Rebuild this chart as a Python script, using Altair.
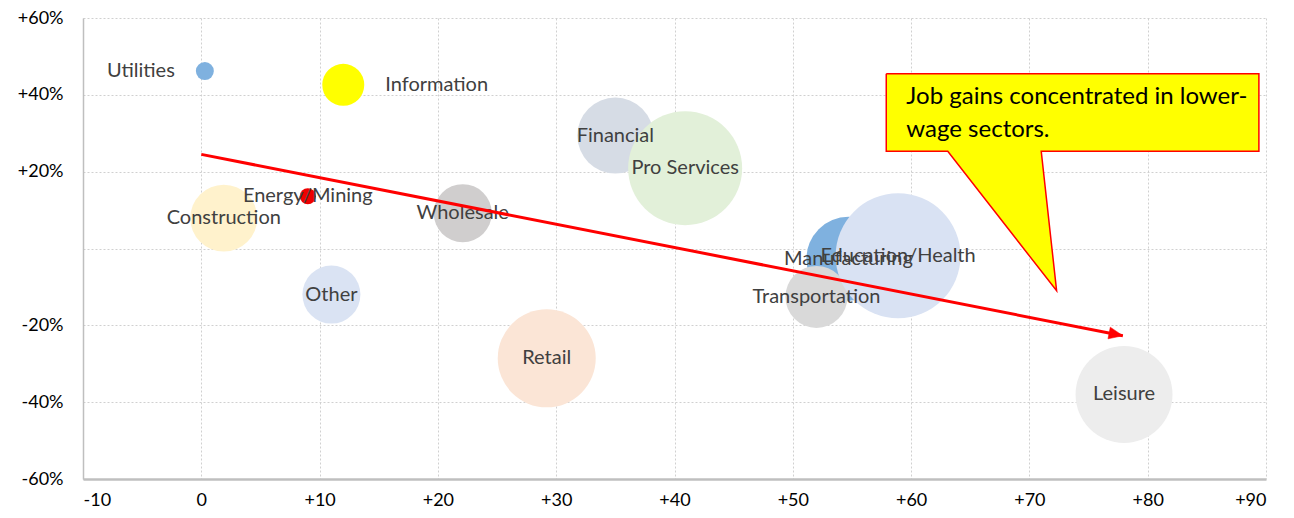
import math
import altair as alt
import pandas as pd

# ---- data ----
sectors = ["Utilities", "Information", "Financial", "Pro Services", "Energy/Mining",
           "Construction", "Wholesale", "Other", "Retail", "Manufacturing",
           "Transportation", "Education/Health", "Leisure"]
job_gain = [0.3, 12.0, 35.0, 40.9, 9.0, 1.9, 22.1, 11.0, 29.2, 54.7, 52.0, 58.9, 78.0]
wage_change = [46.2, 42.6, 29.4, 20.9, 13.6, 7.9, 9.2, -12.0, -28.6, -2.7, -12.6, -1.9, -38.0]
bubble_size = [81, 441, 1444, 3249, 64, 1120, 841, 841, 2401, 1764, 961, 3900, 2350]
bubble_color = ["#7fb1df", "#ffff00", "#d6dce5", "#e2f0d9", "#ee0000",
                "#fff2cc", "#d0cece", "#dae3f3", "#fbe5d6", "#7fb1df",
                "#d9d9d9", "#d9e2f3", "#ededed"]
label_side = ["left", "right", "center", "center", "center", "center", "center",
              "center", "center", "center", "center", "center", "center"]

trend_x = [0.0, 77.9]
trend_y = [24.5, -22.7]

callout_x = [57.9, 89.4, 89.4, 71.0, 72.3, 63.1, 57.9, 57.9]
callout_y = [45.5, 45.5, 25.3, 25.3, -11.0, 25.3, 25.3, 45.5]
callout_text = ["Job gains concentrated in lower-", "wage sectors."]
callout_text_x = [59.6]
callout_text_y = [42.6]

x_ticks = list(range(-10, 91, 10))
y_ticks = list(range(-60, 61, 20))

W, H = 1183, 461
FONT = "Lato"

df = pd.DataFrame({"sector": sectors, "x": job_gain, "y": wage_change,
                   "size": bubble_size, "color": bubble_color, "side": label_side})
df["order"] = range(len(df))

xs = alt.Scale(domain=[-10, 90], nice=False, zero=False)
ys = alt.Scale(domain=[-60, 60], nice=False, zero=False)

x_enc = alt.X("x:Q", scale=xs, axis=alt.Axis(
    values=x_ticks, title=None, grid=True, ticks=False, labelPadding=12,
    labelExpr="datum.value > 0 ? '+' + datum.value : '' + datum.value",
    domainColor="#bfbfbf", domainWidth=2.5))
y_enc = alt.Y("y:Q", scale=ys, axis=alt.Axis(
    values=y_ticks, title=None, grid=True, ticks=False, labelPadding=20,
    labelExpr="datum.value == 0 ? '' : (datum.value > 0 ? '+' + datum.value + '%' : datum.value + '%')",
    domainColor="#bfbfbf", domainWidth=1.5))

base = alt.Chart(df)

bubbles = base.mark_circle(opacity=1).encode(
    x=x_enc, y=y_enc,
    size=alt.Size("size:Q", scale=alt.Scale(domain=[0, 3969], range=[0, 4 * 3969]), legend=None),
    color=alt.Color("color:N", scale=None),
    order=alt.Order("order:Q"),
)

txt_kw = dict(font=FONT, fontSize=20, color="#404040")
lab_c = base.transform_filter("datum.side == 'center'").mark_text(align="center", baseline="middle", **txt_kw).encode(
    x="x:Q", y="y:Q", text="sector:N")
lab_l = base.transform_filter("datum.side == 'left'").mark_text(align="right", baseline="middle", dx=-30, **txt_kw).encode(
    x="x:Q", y="y:Q", text="sector:N")
lab_r = base.transform_filter("datum.side == 'right'").mark_text(align="left", baseline="middle", dx=42, **txt_kw).encode(
    x="x:Q", y="y:Q", text="sector:N")

trend_df = pd.DataFrame({"x": trend_x, "y": trend_y})
trend = alt.Chart(trend_df).mark_line(color="#ff0000", strokeWidth=3).encode(x="x:Q", y="y:Q")

# arrow head oriented along the trend line (in pixel space)
dxp = (trend_x[1] - trend_x[0]) * W / 100.0
dyp = -(trend_y[1] - trend_y[0]) * H / 120.0
ang = math.degrees(math.atan2(dyp, dxp))
head_df = pd.DataFrame({"x": [trend_x[1]], "y": [trend_y[1]]})
head = alt.Chart(head_df).mark_point(
    shape="M0,0 L-2,-0.85 L-2,0.85 Z", filled=True, fill="#ff0000", stroke="#ff0000",
    strokeWidth=0.5, opacity=1, size=196, angle=ang).encode(x="x:Q", y="y:Q")

call_df = pd.DataFrame({"x": callout_x, "y": callout_y, "o": range(len(callout_x))})
callout = alt.Chart(call_df).mark_line(
    fill="#ffff00", stroke="#ff0000", strokeWidth=1.5, strokeJoin="miter", interpolate="linear"
).encode(x="x:Q", y="y:Q", order="o:Q")

ct_df = pd.DataFrame({"x": callout_text_x, "y": callout_text_y, "t": [callout_text]})
ctext = alt.Chart(ct_df).mark_text(
    align="left", baseline="top", font=FONT, fontSize=24, color="#000000", lineHeight=33
).encode(x="x:Q", y="y:Q", text="t")

chart = alt.layer(bubbles, lab_c, lab_l, lab_r, trend, head, callout, ctext).properties(
    width=W, height=H,
    autosize=alt.AutoSizeParams(type="none"),
    padding={"left": 75, "top": 10, "right": 20, "bottom": 31},
).configure_view(strokeWidth=0).configure_axis(
    labelFont=FONT, labelFontSize=18, labelColor="#000000",
    gridColor="#d0d0d0", gridDash=[2, 2], gridWidth=1,
)

chart.save("out.html", embed_options={"renderer": "svg", "actions": False})
